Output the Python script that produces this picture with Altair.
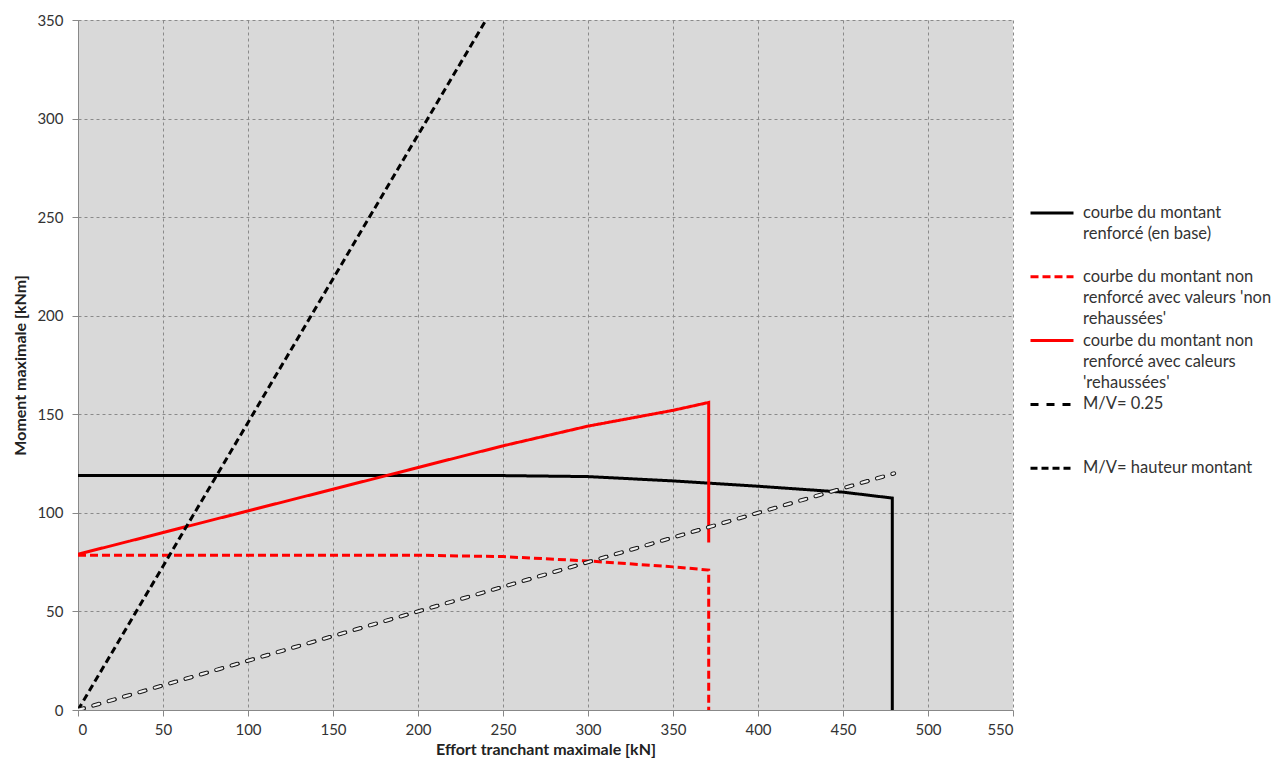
import altair as alt
import pandas as pd

series_names = [
    "courbe du montant|renforcé (en base)",
    "courbe du montant non|renforcé avec valeurs 'non|rehaussées'",
    "courbe du montant non|renforcé avec caleurs|'rehaussées'",
    "M/V= 0.25",
    "M/V= hauteur montant",
]
series_colors = ["#000000", "#ff0000", "#ff0000", "#000000", "#000000"]
series_dashes = [[1, 0], [8, 4], [1, 0], [8, 8], [7, 4]]
legend_rows = [0, 1, 2, 3, 4]

base_x = [0, 250, 300, 350, 400, 450, 479, 479]
base_y = [119, 118.9, 118.4, 116.2, 113.5, 110.5, 107.5, 0]

nonreh_x = [0, 200, 250, 300, 350, 371, 371]
nonreh_y = [78.5, 78.5, 77.8, 75.6, 72.6, 71, 0]

reh_x = [0, 50, 100, 150, 200, 250, 300, 350, 371, 371]
reh_y = [79, 90, 101, 112, 123, 134, 144, 152, 156, 85]

mv025_x = [0, 480]
mv025_y = [0, 120]

mvh_x = [0, 240]
mvh_y = [0, 350]

x_ticks = [0, 50, 100, 150, 200, 250, 300, 350, 400, 450, 500, 550]
y_ticks = [0, 50, 100, 150, 200, 250, 300, 350]

rows = []
for name, xs, ys in zip(series_names,
                        [base_x, nonreh_x, reh_x, mv025_x, mvh_x],
                        [base_y, nonreh_y, reh_y, mv025_y, mvh_y]):
    for i, (xv, yv) in enumerate(zip(xs, ys)):
        rows.append({"serie": name, "x": xv, "y": yv, "ordre": i})
df = pd.DataFrame(rows)

FONT = "Lato"

x_enc = alt.X("x:Q", scale=alt.Scale(domain=[0, 550], nice=False),
              axis=alt.Axis(values=x_ticks, title="Effort tranchant maximale [kN]",
                            labelPadding=6, titlePadding=4))
y_enc = alt.Y("y:Q", scale=alt.Scale(domain=[0, 350], nice=False),
              axis=alt.Axis(values=y_ticks, title="Moment maximale [kNm]",
                            labelPadding=9, titlePadding=8))

layers = []
for name, col, dash, row in zip(series_names, series_colors, series_dashes, legend_rows):
    leg = alt.Legend(title=None, labelExpr="split(datum.label, '|')",
                     orient="none", legendX=951, legendY=170 + 63.8 * row)
    layers.append(
        alt.Chart(df).transform_filter(alt.datum.serie == name)
        .mark_line(strokeWidth=3, clip=True)
        .encode(
            x=x_enc, y=y_enc, order="ordre:Q",
            color=alt.Color("serie:N", scale=alt.Scale(domain=[name], range=[col]), legend=leg),
            strokeDash=alt.StrokeDash("serie:N", scale=alt.Scale(domain=[name], range=[dash]),
                                      legend=leg),
        )
    )

mv_only = alt.Chart(df).transform_filter(alt.datum.serie == "M/V= 0.25")
outer = mv_only.mark_line(strokeWidth=4.2, color="#1a1a1a", strokeDash=[6, 10],
                          strokeCap="round", clip=True).encode(
    x="x:Q", y="y:Q", order="ordre:Q"
)
inner = mv_only.mark_line(strokeWidth=2.2, color="#f0f0f0", strokeDash=[6, 10],
                          strokeCap="round", clip=True).encode(
    x="x:Q", y="y:Q", order="ordre:Q"
)

chart = alt.layer(*layers, outer, inner).resolve_scale(
    color="independent", strokeDash="independent"
).properties(
    width=935, height=690,
    autosize=alt.AutoSizeParams(type="none"),
    padding={"left": 70, "top": 12, "right": 265, "bottom": 48},
).configure(
    style={"guide-label": {"lineHeight": 21.3}},
).configure_view(
    fill="#d9d9d9", stroke=None
).configure_axis(
    labelFont=FONT, labelFontSize=15, labelColor="#333333",
    titleFont=FONT, titleFontSize=16, titleFontWeight="bold", titleColor="#222222",
    gridColor="#8a8a8a", gridDash=[3, 3], gridWidth=1,
    domainColor="#888888", tickColor="#888888", tickSize=6,
).configure_legend(
    labelFont=FONT, labelFontSize=16.5, labelColor="#333333",
    labelBaseline="middle", labelLimit=300,
    symbolType="M-1,0H1", symbolSize=1849, symbolStrokeWidth=3,
    rowPadding=0, labelOffset=8,
)

chart.save("out.html", embed_options={"renderer": "svg", "actions": False})
